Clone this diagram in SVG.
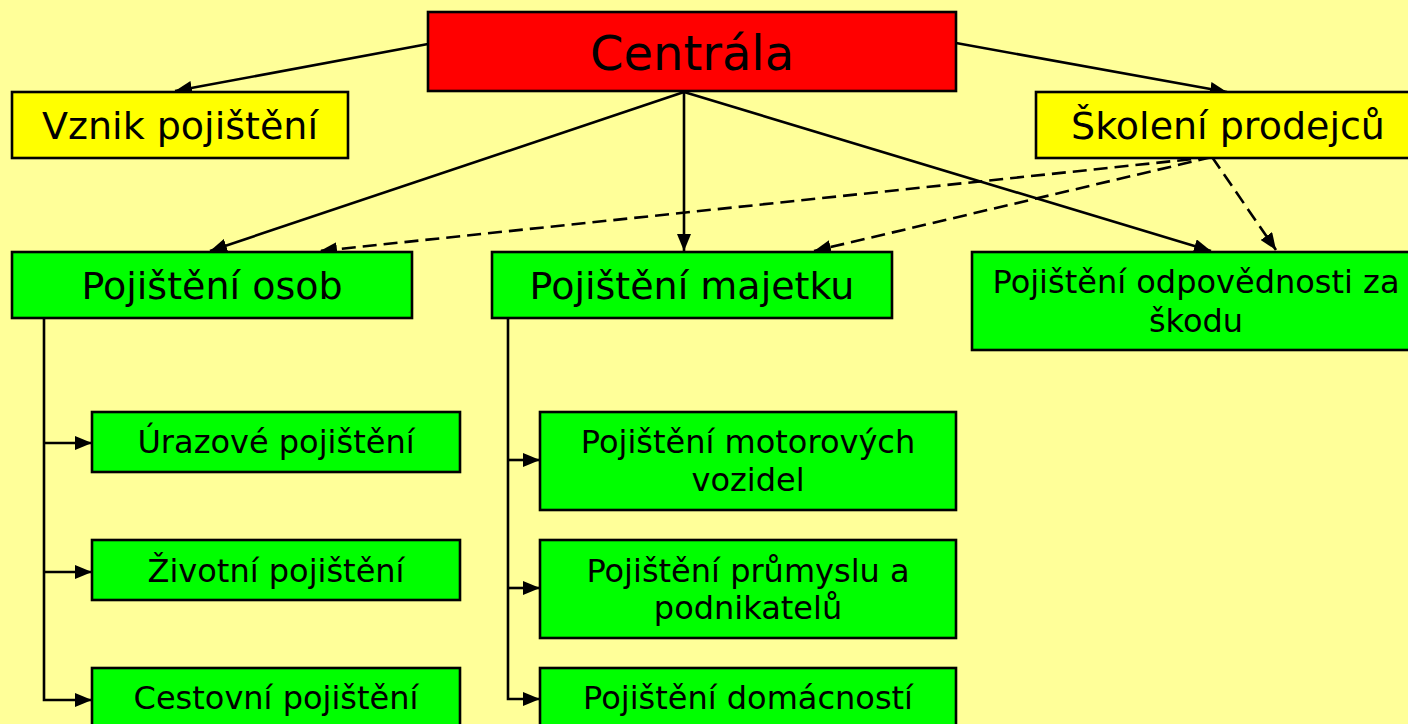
<svg xmlns="http://www.w3.org/2000/svg" width="1408" height="724" viewBox="0 0 1408 724">
<style>
.box{stroke:#000;stroke-width:2.6}
.red{fill:#FF0000}.yel{fill:#FFFF00}.grn{fill:#00FF00}
text{font-family:"DejaVu Sans","Verdana",sans-serif;fill:#000;text-anchor:middle}
.t47{font-size:48px}.t36{font-size:38px}.t30{font-size:32px}
.c{fill:none;stroke:#000;stroke-width:2.6}
.d{stroke-dasharray:14 7}
</style>
<defs>
<marker id="ah" markerUnits="userSpaceOnUse" markerWidth="17" markerHeight="14" refX="17" refY="7" orient="auto">
<path d="M0,0 L17,7 L0,14 z" fill="#000"/>
</marker>
</defs>
<rect width="1408" height="724" fill="#FFFF99"/>
<g id="connectors">
<line class="c" x1="428" y1="44" x2="175" y2="91" marker-end="url(#ah)"/>
<line class="c" x1="956" y1="43" x2="1227" y2="92" marker-end="url(#ah)"/>
<line class="c" x1="684" y1="92" x2="210" y2="251" marker-end="url(#ah)"/>
<line class="c" x1="684" y1="92" x2="684" y2="251" marker-end="url(#ah)"/>
<line class="c" x1="684" y1="92" x2="1211" y2="251" marker-end="url(#ah)"/>
<line class="c d" x1="1212" y1="157" x2="320" y2="251" marker-end="url(#ah)"/>
<line class="c d" x1="1212" y1="157" x2="814" y2="251" marker-end="url(#ah)"/>
<line class="c d" x1="1212" y1="157" x2="1276" y2="250" marker-end="url(#ah)"/>
<polyline class="c" points="44,318 44,700 92,700" marker-end="url(#ah)"/>
<line class="c" x1="44" y1="443" x2="92" y2="443" marker-end="url(#ah)"/>
<line class="c" x1="44" y1="572" x2="92" y2="572" marker-end="url(#ah)"/>
<polyline class="c" points="508,318 508,699 540,699" marker-end="url(#ah)"/>
<line class="c" x1="508" y1="460" x2="540" y2="460" marker-end="url(#ah)"/>
<line class="c" x1="508" y1="588" x2="540" y2="588" marker-end="url(#ah)"/>
</g>
<g id="centrala"><rect class="box red" x="428" y="12" width="528" height="79"/><text class="t47" x="692" y="70">Centrála</text></g>
<g id="vznik"><rect class="box yel" x="12" y="92" width="336" height="66"/><text class="t36" x="180" y="139">Vznik pojištění</text></g>
<g id="skoleni"><rect class="box yel" x="1036" y="92" width="380" height="66"/><text class="t36" x="1228" y="139">Školení prodejců</text></g>
<g id="osob"><rect class="box grn" x="12" y="252" width="400" height="66"/><text class="t36" x="212" y="299">Pojištění osob</text></g>
<g id="majetku"><rect class="box grn" x="492" y="252" width="400" height="66"/><text class="t36" x="692" y="299">Pojištění majetku</text></g>
<g id="odpovednosti"><rect class="box grn" x="972" y="252" width="446" height="98"/><text class="t30" x="1196" y="293">Pojištění odpovědnosti za</text><text class="t30" x="1196" y="332">škodu</text></g>
<g id="urazove"><rect class="box grn" x="92" y="412" width="368" height="60"/><text class="t30" x="276" y="453">Úrazové pojištění</text></g>
<g id="zivotni"><rect class="box grn" x="92" y="540" width="368" height="60"/><text class="t30" x="276" y="582">Životní pojištění</text></g>
<g id="cestovni"><rect class="box grn" x="92" y="668" width="368" height="70"/><text class="t30" x="276" y="709">Cestovní pojištění</text></g>
<g id="motorovych"><rect class="box grn" x="540" y="412" width="416" height="98"/><text class="t30" x="748" y="453">Pojištění motorových</text><text class="t30" x="748" y="491">vozidel</text></g>
<g id="prumyslu"><rect class="box grn" x="540" y="540" width="416" height="98"/><text class="t30" x="748" y="582">Pojištění průmyslu a</text><text class="t30" x="748" y="619">podnikatelů</text></g>
<g id="domacnosti"><rect class="box grn" x="540" y="668" width="416" height="70"/><text class="t30" x="748" y="709">Pojištění domácností</text></g>
</svg>
